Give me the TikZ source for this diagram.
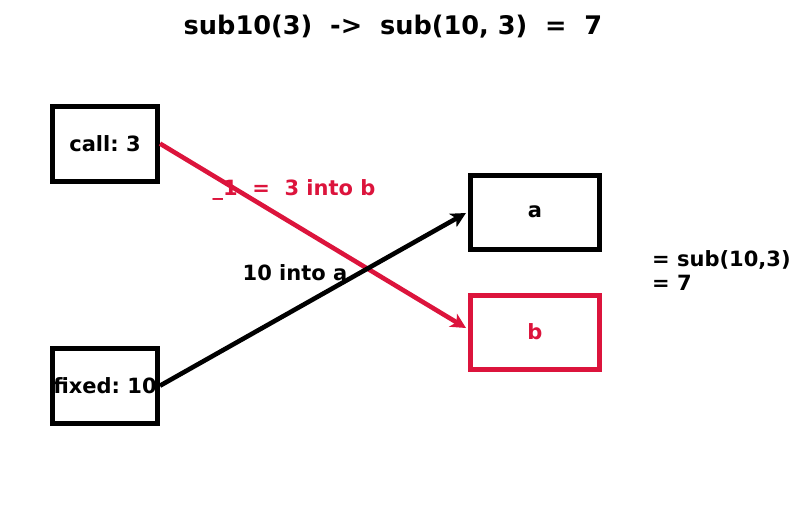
\documentclass[tikz,border=0pt]{standalone}
\usepackage{fontspec}
\setmainfont{DejaVu Sans}
\usetikzlibrary{arrows.meta}
\definecolor{crim}{HTML}{DC143C}
\frenchspacing
\tikzset{
  box/.style={draw, line width=5pt, minimum width=105pt, minimum height=75pt, inner sep=0pt, font=\fontsize{21}{25}\selectfont\bfseries},
  wbox/.style={box, minimum width=129pt, minimum height=74pt},
  lbl/.style={font=\fontsize{21}{24}\selectfont\bfseries, inner sep=0pt},
  conn/.style={line width=4.6pt, -{Stealth[length=15pt,width=15pt,inset=4pt]}}
}
\begin{document}
\begin{tikzpicture}[x=1pt,y=-1pt]
\useasboundingbox (0,0) rectangle (806,512);
\node[lbl, font=\fontsize{25.6}{30}\selectfont\bfseries] (title) at (393,27) {sub10(3)\ \ ->\ \ sub(10, 3)\ \ =\ \ 7};
\node[box] (call) at (105,143.6) {call: 3};
\node[box] (fixed) at (105,385.7) {fixed: 10};
\node[wbox] (a) at (535,212) {a};
\node[wbox, draw=crim, text=crim] (b) at (535,332) {b};
\coordinate (atip) at (466,213);
\coordinate (btip) at (466,328);
\draw[conn, crim] (call.east) -- (btip);
\draw[conn] (fixed.east) -- (atip);
\node[lbl, text=crim] (l1) at (294,190) {\_1\ \ =\ \ 3 into b};
\node[lbl] (l2) at (295,273) {10 into a};
\node[lbl, anchor=west, align=left] (res) at (652,271) {= sub(10,3)\\= 7};
\end{tikzpicture}
\end{document}
